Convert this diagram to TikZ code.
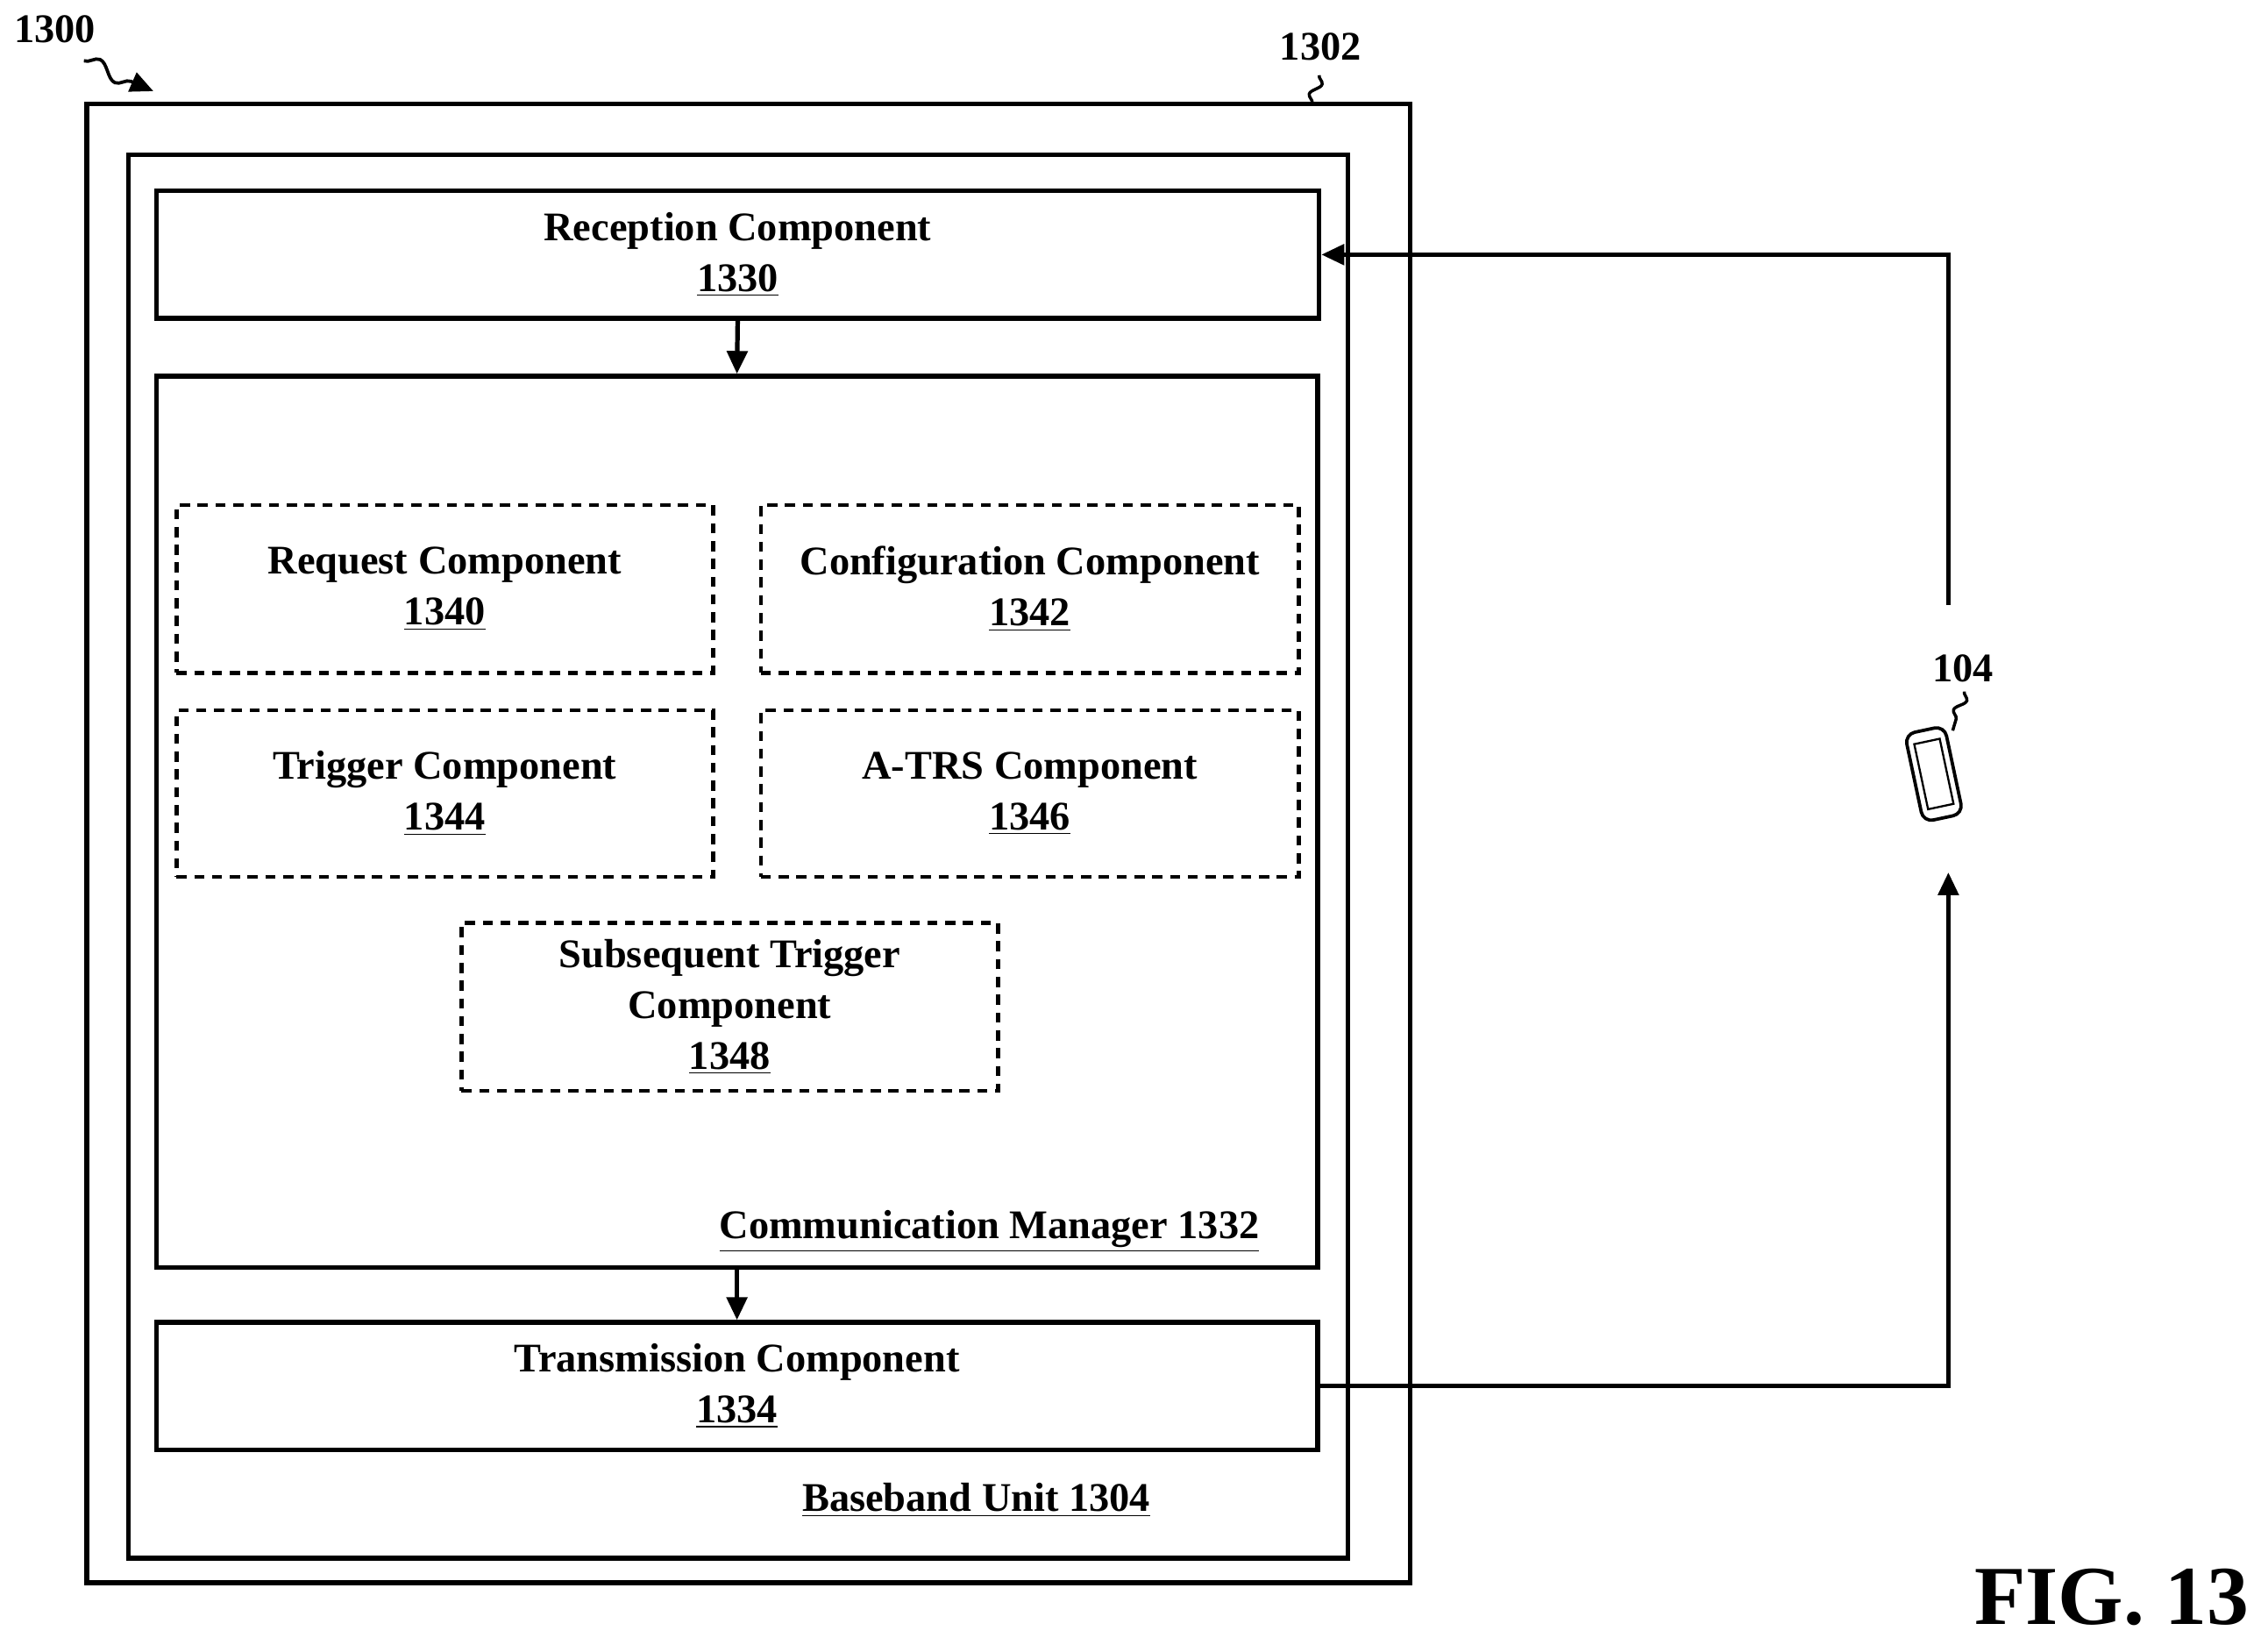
\documentclass[tikz,border=0pt]{standalone}
\usepackage{fontspec}
\setmainfont{Liberation Serif}
\usetikzlibrary{arrows.meta,decorations.pathmorphing}
\begin{document}
\begin{tikzpicture}[x=0.02cm,y=-0.02cm,
  box/.style={draw,line width=1.8pt},
  dbox/.style={draw,line width=1.6pt,dash pattern=on 4pt off 3pt},
  lbl/.style={font=\fontsize{16}{20}\selectfont\bfseries,align=center},
  arr/.style={line width=1.8pt,-{Triangle[length=9pt,width=8pt]}},
  sq/.style={line width=1.2pt,decorate,decoration={snake,amplitude=2pt,segment length=10pt}}]
\useasboundingbox (0,0) rectangle (1568,1137);
\draw[box] (60,72) rectangle (975,1094);
\draw[box] (89,107) rectangle (932,1077);
\node[box,minimum width=804*0.02cm,minimum height=88*0.02cm,lbl] (rx) at (510,176) {Reception Component\\\underline{1330}};
\node[box,minimum width=803*0.02cm,minimum height=616*0.02cm] (cm) at (509.5,568) {};
\node[box,minimum width=803*0.02cm,minimum height=88*0.02cm,lbl] (tx) at (509.5,958) {Transmission Component\\\underline{1334}};
\node[dbox,minimum width=371*0.02cm,minimum height=116*0.02cm,lbl] (r) at (307.5,407) {Request Component\\\underline{1340}};
\node[dbox,minimum width=372*0.02cm,minimum height=116*0.02cm,lbl] (c) at (712,407) {Configuration Component\\\underline{1342}};
\node[dbox,minimum width=371*0.02cm,minimum height=115*0.02cm,lbl] (t) at (307.5,548.5) {Trigger Component\\\underline{1344}};
\node[dbox,minimum width=372*0.02cm,minimum height=115*0.02cm,lbl] (a) at (712,548.5) {A-TRS Component\\\underline{1346}};
\node[dbox,minimum width=371*0.02cm,minimum height=116*0.02cm,lbl] (s) at (504.5,696) {Subsequent Trigger\\Component\\\underline{1348}};
\node[lbl] (cml) at (684,851) {\underline{Communication Manager 1332}};
\node[lbl] (bbl) at (675,1037) {\underline{Baseband Unit 1304}};
\draw[arr] (rx.south) -- (cm.north);
\draw[arr] (cm.south) -- (tx.north);
% phone
\node[draw,line width=1.3pt,rounded corners=4pt,minimum width=28*0.02cm,minimum height=62*0.02cm,rotate=12,inner sep=0pt] (ue) at (1337,535) {};
\node[draw,line width=0.8pt,minimum width=18*0.02cm,minimum height=46*0.02cm,rotate=12,inner sep=0pt] (scr) at (1337,535) {};
\coordinate (up) at (1347,418);
\coordinate (dn) at (1347,603);
\draw[arr] (up) -- (up |- rx.east) -- (rx.east);
\draw[arr] (tx.east) -- (tx.east -| dn) -- (dn);
\node[lbl] (n104) at (1357,462) {104};
\draw[sq] (1358,478) -- (1350,505);
\node[lbl] (n1300) at (38,20) {1300};
\draw[line width=1.3pt,decorate,decoration={snake,amplitude=3pt,segment length=18pt,post length=8pt},-{Triangle[length=9pt,width=8pt]}] (58,42) -- (106,63);
\node[lbl] (n1302) at (913,32) {1302};
\draw[sq] (912,52) -- (907,72);
\node[font=\fontsize{33}{38}\selectfont\bfseries] (fig) at (1460,1104) {FIG. 13};
\end{tikzpicture}
\end{document}
